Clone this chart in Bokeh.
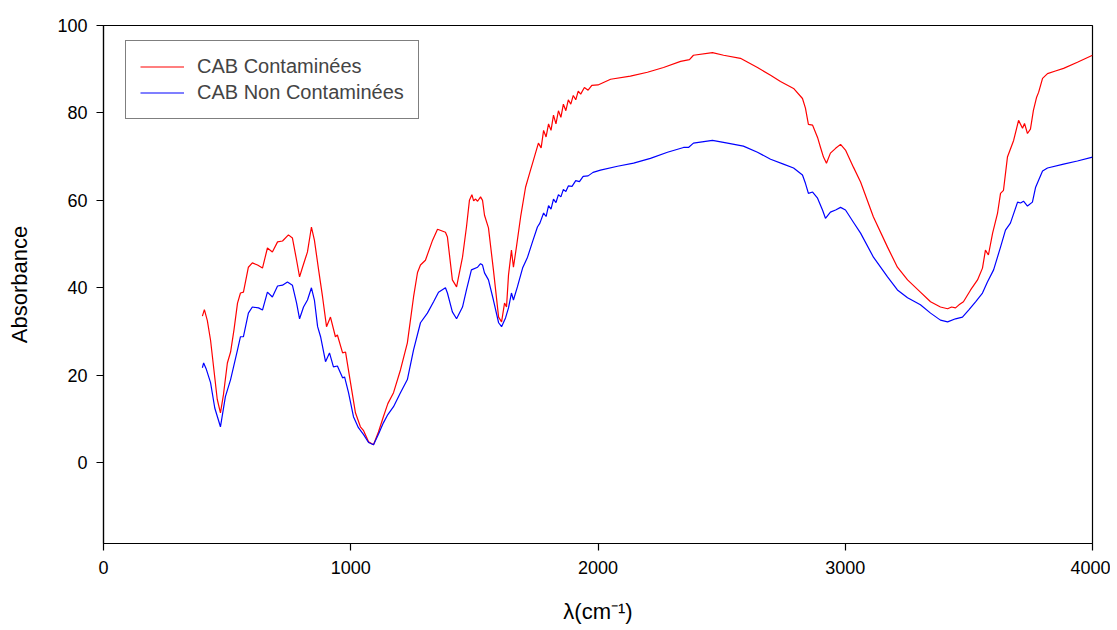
from bokeh.plotting import figure
from bokeh.models import Range1d, FixedTicker, Legend, LegendItem
from bokeh.embed import file_html
from bokeh.resources import INLINE

# Wavenumber (cm-1) and absorbance readings for each series
red_x = [400, 408, 420, 433, 445, 460, 473, 485, 501, 514, 528, 542, 554, 566, 586, 602, 623, 643,
         663, 683, 704, 724, 748, 764, 781, 793, 805, 817, 825, 841, 853, 870, 886, 902, 918, 938,
         946, 967, 979, 999, 1019, 1039, 1052, 1072, 1092, 1112, 1132, 1150, 1173, 1201, 1229, 1254,
         1270, 1282, 1302, 1331, 1351, 1383, 1391, 1411, 1428, 1452, 1468, 1480, 1490, 1497, 1505,
         1513, 1525, 1533, 1541, 1557, 1577, 1598, 1610, 1622, 1630, 1638, 1650, 1658, 1670, 1687,
         1707, 1727, 1739, 1759, 1770, 1780, 1790, 1800, 1810, 1820, 1830, 1840, 1850, 1860, 1870,
         1880, 1890, 1900, 1910, 1920, 1930, 1945, 1960, 1975, 2000, 2051, 2131, 2200, 2265, 2334,
         2370, 2386, 2463, 2508, 2576, 2645, 2698, 2738, 2791, 2827, 2839, 2851, 2868, 2888, 2900,
         2912, 2924, 2940, 2961, 2981, 3001, 3033, 3062, 3114, 3171, 3211, 3252, 3304, 3345, 3385,
         3414, 3430, 3446, 3460, 3478, 3507, 3535, 3555, 3567, 3579, 3596, 3616, 3628, 3640, 3656,
         3681, 3701, 3717, 3725, 3737, 3749, 3761, 3774, 3782, 3798, 3818, 3850, 3883, 3939, 4000]
red_y = [33.5, 35.0, 32.5, 28.0, 22.0, 14.5, 11.4, 15.5, 22.8, 25.3, 30.5, 36.5, 38.8, 39.0, 44.7,
         45.7, 45.2, 44.5, 49.1, 48.2, 50.5, 50.7, 52.1, 51.4, 46.3, 42.5, 44.7, 46.8, 48.2, 53.9,
         50.9, 44.1, 37.9, 31.1, 33.3, 28.8, 29.2, 25.1, 25.3, 18.3, 11.4, 8.2, 7.3, 4.8, 4.1, 7.0,
         10.5, 13.5, 16.0, 21.2, 27.4, 37.9, 43.5, 45.2, 46.3, 50.9, 53.4, 52.7, 51.6, 41.8, 40.2,
         47.0, 53.9, 60.0, 61.3, 59.9, 60.3, 59.8, 60.8, 60.0, 56.6, 53.7, 44.1, 33.3, 32.2, 36.5,
         35.6, 42.9, 48.6, 44.7, 49.3, 56.2, 63.0, 66.9, 69.2, 73.1, 72.0, 76.0, 74.5, 77.5, 76.0,
         79.5, 77.5, 80.5, 79.0, 82.0, 80.5, 83.0, 82.0, 84.0, 83.0, 85.0, 84.3, 85.8, 85.2, 86.3,
         86.4, 87.7, 88.4, 89.3, 90.4, 91.8, 92.2, 93.2, 93.8, 93.2, 92.5, 90.4, 88.6, 87.2, 85.6,
         83.3, 81.1, 77.4, 77.2, 74.4, 72.1, 69.9, 68.5, 70.8, 71.9, 72.8, 71.5, 67.6, 64.2, 56.2,
         49.3, 44.7, 41.8, 39.0, 36.8, 35.6, 35.2, 35.6, 35.4, 36.1, 36.8, 39.5, 41.8, 44.5, 48.6,
         47.5, 52.5, 57.1, 61.6, 62.3, 69.9, 73.7, 78.3, 76.5, 77.6, 75.3, 76.3, 80.6, 83.6, 84.7,
         87.9, 89.0, 89.6, 90.2, 91.6, 93.2]

blue_x = [400, 405, 415, 433, 450, 473, 493, 514, 542, 554, 566, 586, 602, 627, 643, 663, 683, 704,
          724, 744, 764, 781, 793, 809, 825, 841, 853, 866, 878, 898, 914, 930, 946, 967, 975, 991,
          1011, 1031, 1052, 1072, 1092, 1112, 1132, 1150, 1173, 1201, 1229, 1254, 1282, 1310, 1335,
          1355, 1383, 1391, 1411, 1428, 1452, 1468, 1488, 1513, 1525, 1533, 1541, 1557, 1577, 1598,
          1610, 1626, 1638, 1650, 1658, 1674, 1695, 1715, 1735, 1755, 1765, 1780, 1790, 1800, 1810,
          1820, 1830, 1840, 1850, 1860, 1870, 1880, 1895, 1910, 1925, 1940, 1960, 1980, 2010, 2079,
          2144, 2212, 2281, 2346, 2366, 2386, 2463, 2524, 2588, 2645, 2698, 2750, 2791, 2827, 2839,
          2851, 2868, 2888, 2908, 2920, 2940, 2961, 2981, 3001, 3033, 3062, 3114, 3171, 3211, 3252,
          3304, 3345, 3385, 3414, 3446, 3474, 3499, 3527, 3555, 3575, 3600, 3628, 3648, 3668, 3697,
          3709, 3721, 3737, 3757, 3770, 3782, 3798, 3818, 3883, 3939, 4000]
blue_y = [21.7, 22.8, 21.5, 18.3, 12.5, 8.2, 15.1, 19.0, 25.8, 28.8, 28.8, 34.2, 35.6, 35.4, 34.9,
          39.0, 37.9, 40.4, 40.6, 41.3, 40.6, 36.5, 32.9, 35.6, 37.2, 40.0, 37.2, 31.1, 28.8, 23.1,
          25.1, 21.9, 22.1, 19.4, 19.6, 16.0, 10.5, 8.0, 6.4, 4.6, 4.1, 6.5, 9.1, 11.0, 12.8, 16.0,
          19.0, 25.8, 32.0, 34.2, 36.8, 39.0, 40.0, 38.8, 34.5, 32.9, 35.6, 39.5, 44.1, 44.7, 45.5,
          45.2, 43.4, 41.8, 37.2, 32.0, 31.1, 33.1, 35.4, 38.8, 37.2, 40.2, 44.5, 47.0, 50.5, 53.9,
          54.8, 57.1, 56.3, 58.8, 58.0, 60.3, 59.5, 61.3, 60.8, 62.5, 62.0, 63.3, 63.2, 64.5, 64.3,
          65.5, 65.6, 66.4, 66.9, 67.8, 68.5, 69.6, 71.0, 72.1, 72.1, 73.1, 73.7, 73.1, 72.4, 71.0,
          69.4, 68.3, 67.4, 65.8, 63.9, 61.6, 61.9, 60.5, 57.8, 55.9, 57.3, 57.8, 58.4, 57.8, 55.0,
          52.5, 47.0, 42.5, 39.5, 37.7, 36.1, 34.2, 32.6, 32.2, 32.9, 33.3, 34.9, 36.8, 38.8, 41.3,
          44.1, 49.3, 53.2, 54.8, 59.6, 59.4, 59.8, 58.7, 59.6, 63.0, 64.6, 66.7, 67.4, 68.3, 69.0,
          69.9]

series_names = ["CAB Contaminées", "CAB Non Contaminées"]
x_ticks = [0, 1000, 2000, 3000, 4000]
y_ticks = [0, 20, 40, 60, 80, 100]

FONT = "Liberation Sans"

p = figure(width=1110, height=626, output_backend="svg", toolbar_location=None,
           x_range=Range1d(0, 4000), y_range=Range1d(-18.5, 100),
           min_border_left=103, min_border_right=18, min_border_top=25, min_border_bottom=82,
           x_axis_label="λ(cm⁻¹)", y_axis_label="Absorbance")

p.grid.visible = False
p.outline_line_color = "black"
p.outline_line_width = 1.2
p.background_fill_color = "white"
p.border_fill_color = "white"

for ax, ticks in ((p.xaxis[0], x_ticks), (p.yaxis[0], y_ticks)):
    ax.ticker = FixedTicker(ticks=ticks)
    ax.axis_line_color = "black"
    ax.axis_line_width = 1.2
    ax.major_tick_line_color = "black"
    ax.major_tick_line_width = 1.2
    ax.major_tick_out = 7
    ax.major_tick_in = 0
    ax.minor_tick_line_color = None
    ax.major_label_text_font = FONT
    ax.major_label_text_font_size = "18px"
    ax.major_label_text_color = "black"
    ax.axis_label_text_font = FONT
    ax.axis_label_text_font_size = "22px"
    ax.axis_label_text_font_style = "normal"
    ax.axis_label_text_color = "black"

p.xaxis.major_label_standoff = 10
p.xaxis.axis_label_standoff = 22
p.yaxis.major_label_standoff = 9
p.yaxis.axis_label_standoff = 22

r1 = p.line(red_x, red_y, line_color="#FF0000", line_width=1.2)
r2 = p.line(blue_x, blue_y, line_color="#0000FF", line_width=1.2)

legend = Legend(items=[LegendItem(label=series_names[0], renderers=[r1]),
                       LegendItem(label=series_names[1], renderers=[r2])],
                location=(22, 424), padding=14, spacing=3, glyph_width=44, glyph_height=23,
                label_standoff=13, label_height=23, label_text_font=FONT,
                label_text_font_size="20px", border_line_color="black", border_line_width=1.2,
                background_fill_alpha=1.0, margin=0)
p.add_layout(legend)

open("out.html", "w").write(file_html(p, INLINE))
